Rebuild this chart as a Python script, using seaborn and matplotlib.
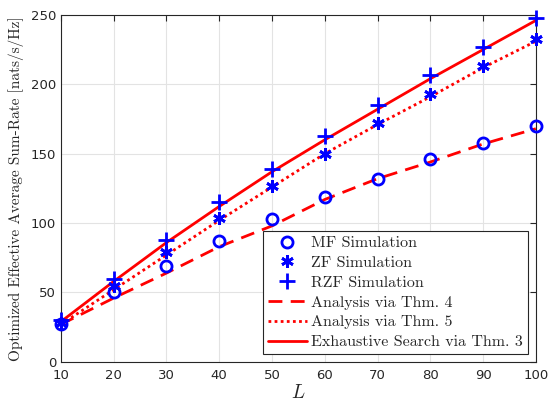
import numpy as np
import pandas as pd
import matplotlib
matplotlib.use('Agg')
import matplotlib.pyplot as plt
import seaborn as sns

# data
L = [10, 20, 30, 40, 50, 60, 70, 80, 90, 100]
mf_sim = [27, 50, 69, 87, 103, 119, 132, 146, 158, 170]
zf_sim = [28, 55, 79, 104, 127, 150, 172, 193, 213, 233]
rzf_sim = [30, 60, 88, 115, 139, 163, 185, 207, 227, 248]
thm4 = [27, 46, 64, 83, 98, 117, 132, 144, 157, 168]
thm5 = [27, 52, 77, 102, 126, 150, 171, 191, 212, 231]
thm3 = [29, 58, 86, 112, 137, 160, 182, 204, 225, 246]

df = pd.DataFrame({'L': L, 'mf': mf_sim, 'zf': zf_sim, 'rzf': rzf_sim,
                   'thm4': thm4, 'thm5': thm5, 'thm3': thm3})

sns.set_style('white')
plt.rcParams['font.family'] = ['DejaVu Sans']
plt.rcParams['mathtext.fontset'] = 'cm'

fig = plt.figure(figsize=(5.49, 4.03), dpi=100)
ax = fig.add_axes([0.111, 0.102, 0.865, 0.861])

blue = '#0000ff'
red = '#ff0000'

# simulation markers
sns.lineplot(data=df, x='L', y='mf', ax=ax, linestyle='none', marker='o',
             markersize=8, markerfacecolor='none', markeredgecolor=blue,
             markeredgewidth=2, clip_on=False, zorder=5, label='MF Simulation')
sns.lineplot(data=df, x='L', y='zf', ax=ax, linestyle='none', marker=(6, 2, 0),
             markersize=9, markeredgecolor=blue, color=blue,
             markeredgewidth=2, clip_on=False, zorder=5, label='ZF Simulation')
sns.lineplot(data=df, x='L', y='rzf', ax=ax, linestyle='none', marker='+',
             markersize=11, markeredgecolor=blue, color=blue,
             markeredgewidth=2, clip_on=False, zorder=5, label='RZF Simulation')

# analytical curves
sns.lineplot(data=df, x='L', y='thm4', ax=ax, color=red, linewidth=2,
             linestyle=(0, (5, 3)), label='Analysis via Thm. 4')
sns.lineplot(data=df, x='L', y='thm5', ax=ax, color=red, linewidth=2,
             linestyle=(0, (1, 1.2)), label='Analysis via Thm. 5')
sns.lineplot(data=df, x='L', y='thm3', ax=ax, color=red, linewidth=2,
             linestyle='-', label='Exhaustive Search via Thm. 3')

ax.set_xlim(10, 100)
ax.set_ylim(0, 250)
ax.set_xticks(np.arange(10, 101, 10))
ax.set_yticks(np.arange(0, 251, 50))
ax.grid(True, color='#e3e3e3', linewidth=0.8)
ax.set_axisbelow(True)
ax.tick_params(direction='in', top=True, right=True, length=4,
               labelsize=9.5, colors='#262626', width=0.8)
ax.tick_params(axis='x', pad=5)
for s in ax.spines.values():
    s.set_color('#262626')
    s.set_linewidth(0.8)

ax.set_xlabel('$L$', fontsize=14, labelpad=1)
ax.set_ylabel('Optimized Effective Average Sum-Rate [nats/s/Hz]',
              family='cmr10', fontsize=11, labelpad=5)

leg = ax.legend(loc='lower right', prop={'family': 'cmr10', 'size': 11.5},
                frameon=True, fancybox=False, edgecolor='#262626',
                framealpha=1, borderaxespad=0.5, handlelength=2.4,
                handletextpad=0.3, labelspacing=0.35, borderpad=0.3)
leg.get_frame().set_linewidth(0.8)

fig.savefig('out.png', dpi=100)
